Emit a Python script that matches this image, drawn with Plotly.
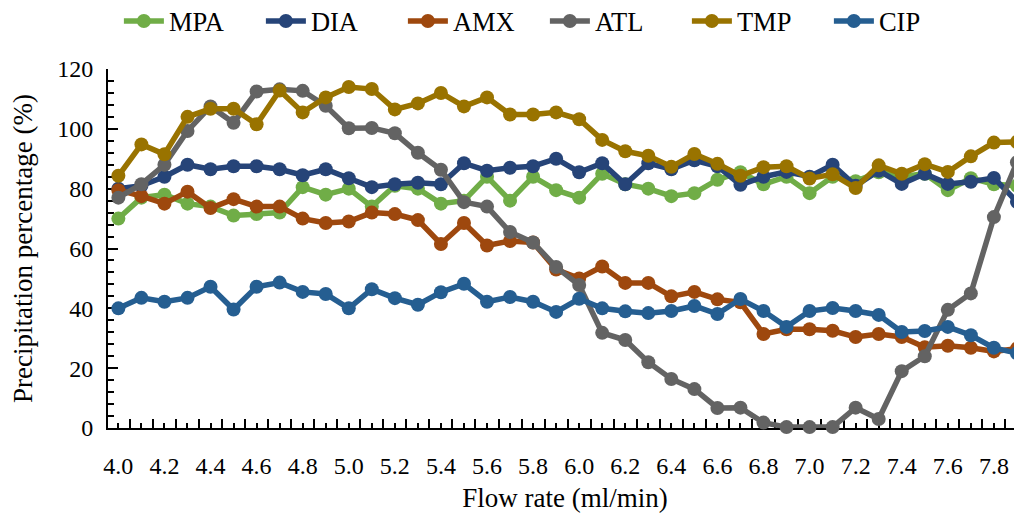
import plotly.graph_objects as go

flow_rate = [4.0, 4.1, 4.2, 4.3, 4.4, 4.5, 4.6, 4.7, 4.8, 4.9,
             5.0, 5.1, 5.2, 5.3, 5.4, 5.5, 5.6, 5.7, 5.8, 5.9,
             6.0, 6.1, 6.2, 6.3, 6.4, 6.5, 6.6, 6.7, 6.8, 6.9,
             7.0, 7.1, 7.2, 7.3, 7.4, 7.5, 7.6, 7.7, 7.8, 7.9]

x_tick_labels = ["4.0", "4.2", "4.4", "4.6", "4.8", "5.0", "5.2", "5.4", "5.6", "5.8",
                 "6.0", "6.2", "6.4", "6.6", "6.8", "7.0", "7.2", "7.4", "7.6", "7.8"]

MPA = [70, 77, 78, 75, 74, 71, 71.5, 72, 80.5, 78,
       80, 74, 81, 80, 75, 76, 84, 76, 84, 79.5,
       77, 85, 81.5, 80, 77.5, 78.5, 83, 85.5, 81.5, 84,
       78.5, 84, 82.5, 85.5, 84, 85, 79.5, 83.5, 81.5, 81]
DIA = [80, 81, 84, 88, 86.5, 87.5, 87.5, 86.5, 84.5, 86.5,
       83.5, 80.5, 81.5, 82, 81.5, 88.5, 86, 87, 87.5, 90,
       85.5, 88.5, 81.5, 88.5, 86.5, 89.5, 87.5, 81.3, 84, 85.6,
       84, 88, 81, 86, 81.6, 85, 81.6, 82.3, 83.6, 75.6]
AMX = [79.5, 77.5, 75, 79, 73.5, 76.5, 74, 74, 70, 68.5,
       69, 72, 71.5, 69.5, 61.5, 68.5, 61, 62.5, 62, 53,
       50, 54, 48.5, 48.5, 44, 45.5, 43, 42, 31.4, 33,
       33, 32.5, 30.4, 31.4, 30.4, 27, 27.5, 26.8, 25.6, 26.5]
ATL = [77, 81.5, 88, 99.3, 107.5, 102, 112.5, 113.2, 112.7, 107.7,
       100.2, 100.3, 98.5, 92, 86.3, 75.5, 74, 65.5, 62, 53.8,
       47.8, 31.8, 29.4, 22, 16.4, 13, 6.7, 6.8, 1.8, 0.3,
       0.3, 0.3, 6.8, 3, 19, 24, 39.5, 45, 70.5, 88.8]
TMP = [84.3, 94.8, 91.5, 104, 106.7, 106.7, 101.5, 112.8, 105.5, 110.5,
       114, 113.3, 106.5, 108.5, 112, 107.5, 110.5, 104.8, 104.8, 105.5,
       103.2, 96.3, 92.5, 91, 87.3, 91.6, 88.3, 84.3, 87.2, 87.5,
       83.4, 84.8, 80.2, 87.8, 85, 88.2, 85.6, 90.8, 95.4, 95.6]
CIP = [40, 43.5, 42.2, 43.5, 47.2, 39.6, 47.2, 48.6, 45.5, 44.8,
       40, 46.4, 43.4, 41.2, 45.4, 48.2, 42.2, 43.8, 42.2, 38.8,
       43.2, 40, 39, 38.4, 39.1, 40.8, 38.1, 43.1, 39.1, 33.8,
       39.1, 40.1, 39.1, 37.8, 32.1, 32.4, 33.8, 31, 26.8, 25]

series = [("MPA", MPA, "#70AD47"), ("DIA", DIA, "#264478"), ("AMX", AMX, "#9E480E"),
          ("ATL", ATL, "#636363"), ("TMP", TMP, "#997300"), ("CIP", CIP, "#255E91")]

FONT = "Liberation Serif, Times New Roman, serif"

fig = go.Figure()
for name, vals, color in series:
    fig.add_trace(go.Scatter(
        x=flow_rate, y=vals, name=name, mode="lines+markers",
        line=dict(color=color, width=5.5),
        marker=dict(color=color, size=14),
        cliponaxis=False,
    ))

label_map = {}
for i, v in enumerate(flow_rate):
    label_map[v] = x_tick_labels[i // 2] if i % 2 == 0 else ""
mids = [(a + b) / 2 for a, b in zip(flow_rate[:-1], flow_rate[1:])]

# page body has an 8px margin; figure is sized so it ends at the window edge
fig.update_layout(
    width=1014, height=506,
    margin=dict(l=100, r=0, t=61, b=86, autoexpand=False),
    paper_bgcolor="white", plot_bgcolor="white",
    font=dict(family=FONT, color="black", size=24),
    showlegend=True,
    legend=dict(orientation="h", xref="paper", yref="paper",
                x=0.478, xanchor="center", y=1.133, yanchor="middle",
                font=dict(size=26.5, family=FONT), itemwidth=40, entrywidth=87,
                tracegroupgap=0, bgcolor="rgba(0,0,0,0)"),
    xaxis=dict(
        range=[3.955, 7.922], showgrid=False, zeroline=False,
        showline=True, linecolor="black", linewidth=2,
        tickmode="array", tickvals=flow_rate, ticktext=[label_map[v] for v in flow_rate],
        ticks="inside", ticklen=5, tickwidth=1.5, tickcolor="black",
        ticklabelstandoff=15,
        tickfont=dict(size=24, family=FONT),
        minor=dict(tickmode="array", tickvals=mids, ticks="inside", ticklen=9,
                   tickwidth=1.5, tickcolor="black", showgrid=False),
        title=dict(text="Flow rate (ml/min)", font=dict(size=27, family=FONT), standoff=10),
        layer="below traces",
    ),
    yaxis=dict(
        range=[0, 120], showgrid=False, zeroline=False,
        showline=True, linecolor="black", linewidth=2,
        tickmode="linear", tick0=0, dtick=20,
        ticks="inside", ticklen=10, tickwidth=1.5, tickcolor="black",
        ticklabelstandoff=8,
        tickfont=dict(size=24, family=FONT),
        minor=dict(dtick=4, ticks="inside", ticklen=6, tickwidth=1.5,
                   tickcolor="black", showgrid=False),
        title=dict(text="Precipitation percentage (%)", font=dict(size=27, family=FONT), standoff=20),
        layer="below traces",
    ),
)

fig.write_html("out.html")
